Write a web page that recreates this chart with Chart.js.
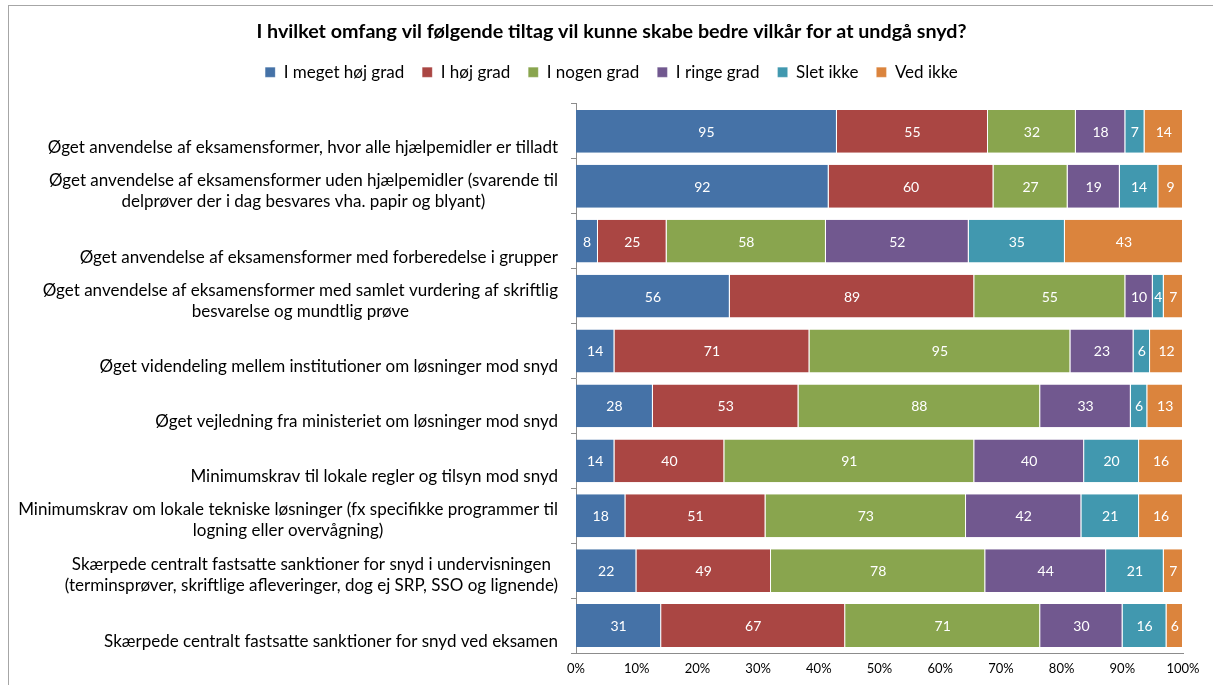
<!DOCTYPE html>
<html>
<head>
<meta charset="utf-8">
<script src="https://cdn.jsdelivr.net/npm/chart.js@4.4.1/dist/chart.umd.min.js"></script>
<style>
  html, body { margin: 0; padding: 0; background: #fff; overflow: hidden; }
  #frame { position: absolute; left: 8px; top: 5px; width: 1220px; height: 700px; border: 1px solid #a6a6a6; }
  #wrap { position: absolute; left: 0; top: 0; width: 1213px; height: 685px; }
</style>
</head>
<body>
<div id="frame"></div>
<div id="wrap"><canvas id="chart"></canvas></div>
<script>
const categories = [
  ['Øget anvendelse af eksamensformer, hvor alle hjælpemidler er tilladt'],
  ['Øget anvendelse af eksamensformer uden hjælpemidler (svarende til', 'delprøver der i dag besvares vha. papir og blyant)'],
  ['Øget anvendelse af eksamensformer med forberedelse i grupper'],
  ['Øget anvendelse af eksamensformer med samlet vurdering af skriftlig', 'besvarelse og mundtlig prøve'],
  ['Øget videndeling mellem institutioner om løsninger mod snyd'],
  ['Øget vejledning fra ministeriet om løsninger mod snyd'],
  ['Minimumskrav til lokale regler og tilsyn mod snyd'],
  ['Minimumskrav om lokale tekniske løsninger (fx specifikke programmer til', 'logning eller overvågning)'],
  ['Skærpede centralt fastsatte sanktioner for snyd i undervisningen', '(terminsprøver, skriftlige afleveringer, dog ej SRP, SSO og lignende)'],
  ['Skærpede centralt fastsatte sanktioner for snyd ved eksamen']
];

const seriesNames = ['I meget høj grad', 'I høj grad', 'I nogen grad', 'I ringe grad', 'Slet ikke', 'Ved ikke'];
const seriesColors = ['#4572A7', '#AA4643', '#89A54E', '#71588F', '#4198AF', '#DB843D'];

const megetHoj = [95, 92, 8, 56, 14, 28, 14, 18, 22, 31];
const hoj      = [55, 60, 25, 89, 71, 53, 40, 51, 49, 67];
const nogen    = [32, 27, 58, 55, 95, 88, 91, 73, 78, 71];
const ringe    = [18, 19, 52, 10, 23, 33, 40, 42, 44, 30];
const sletIkke = [7, 14, 35, 4, 6, 6, 20, 21, 21, 16];
const vedIkke  = [14, 9, 43, 7, 12, 13, 16, 16, 7, 6];

const xTicks = [0, 10, 20, 30, 40, 50, 60, 70, 80, 90, 100];

const counts = [megetHoj, hoj, nogen, ringe, sletIkke, vedIkke];
const totals = categories.map((c, i) => counts.reduce((s, arr) => s + arr[i], 0));

const FONT = 'Lato, "Open Sans", sans-serif';

const datasets = counts.map((arr, k) => ({
  label: seriesNames[k],
  data: arr.map((v, i) => v / totals[i] * 100),
  counts: arr,
  backgroundColor: seriesColors[k],
  borderColor: 'rgba(255,255,255,0.35)',
  borderWidth: { left: 1, right: 1, top: 0, bottom: 0 },
  barPercentage: 0.78,
  categoryPercentage: 1.0
}));

// numbers inside the segments
const segmentLabels = {
  id: 'segmentLabels',
  afterDatasetsDraw(chart) {
    const ctx = chart.ctx;
    ctx.save();
    ctx.fillStyle = '#fff';
    ctx.font = '14px ' + FONT;
    ctx.textAlign = 'center';
    ctx.textBaseline = 'middle';
    chart.data.datasets.forEach((ds, k) => {
      chart.getDatasetMeta(k).data.forEach((el, i) => {
        ctx.fillText(String(ds.counts[i]), (el.x + el.base) / 2, el.y + 1);
      });
    });
    ctx.restore();
  }
};

// category labels, block right aligned, lines centred (like the original)
const categoryLabels = {
  id: 'categoryLabels',
  afterDraw(chart) {
    const ctx = chart.ctx;
    const y = chart.scales.y;
    ctx.save();
    ctx.fillStyle = '#000';
    ctx.font = '17px ' + FONT;
    ctx.textAlign = 'center';
    ctx.textBaseline = 'middle';
    categories.forEach((lines, i) => {
      const yc = y.getPixelForValue(i);
      const w = Math.max(...lines.map(l => ctx.measureText(l).width));
      const cx = 558 - w / 2;
      if (lines.length === 1) {
        ctx.fillText(lines[0], cx, yc + 16);
      } else {
        ctx.fillText(lines[0], cx, yc - 6);
        ctx.fillText(lines[1], cx, yc + 15);
      }
    });
    ctx.restore();
  }
};

new Chart(document.getElementById('chart'), {
  type: 'bar',
  data: { labels: categories.map(c => c.join(' ')), datasets },
  options: {
    indexAxis: 'y',
    responsive: true,
    maintainAspectRatio: false,
    animation: false,
    layout: { padding: { top: 10, right: 30, bottom: 8, left: 40 } },
    plugins: {
      title: {
        display: true,
        text: 'I hvilket omfang vil følgende tiltag vil kunne skabe bedre vilkår for at undgå snyd?',
        color: '#000',
        font: { family: FONT, size: 19.7, weight: 'bold' },
        padding: { top: 10, bottom: 2 }
      },
      // empty spacer below the legend
      subtitle: {
        display: true,
        text: '',
        weight: 500,
        font: { size: 1 },
        padding: { top: 0, bottom: 12 }
      },
      legend: {
        display: true,
        position: 'top',
        labels: {
          color: '#000',
          font: { family: FONT, size: 17 },
          boxWidth: 10,
          boxHeight: 10,
          padding: 18
        }
      },
      tooltip: { enabled: false }
    },
    scales: {
      x: {
        stacked: true,
        min: 0,
        max: 100,
        afterBuildTicks(scale) { scale.ticks = xTicks.map(v => ({ value: v })); },
        afterFit(scale) { scale.height = 24; },
        grid: { display: false },
        border: { display: true, color: '#8c8c8c' },
        ticks: {
          color: '#000',
          font: { family: FONT, size: 13 },
          padding: 0,
          maxRotation: 0,
          callback: v => v + '%'
        }
      },
      y: {
        stacked: true,
        afterFit(scale) { scale.width = 536; },
        grid: { display: true, offset: true, drawOnChartArea: false, tickLength: 5, color: '#8c8c8c' },
        border: { display: true, color: '#8c8c8c' },
        ticks: { display: false }
      }
    }
  },
  plugins: [segmentLabels, categoryLabels]
});
</script>
</body>
</html>
